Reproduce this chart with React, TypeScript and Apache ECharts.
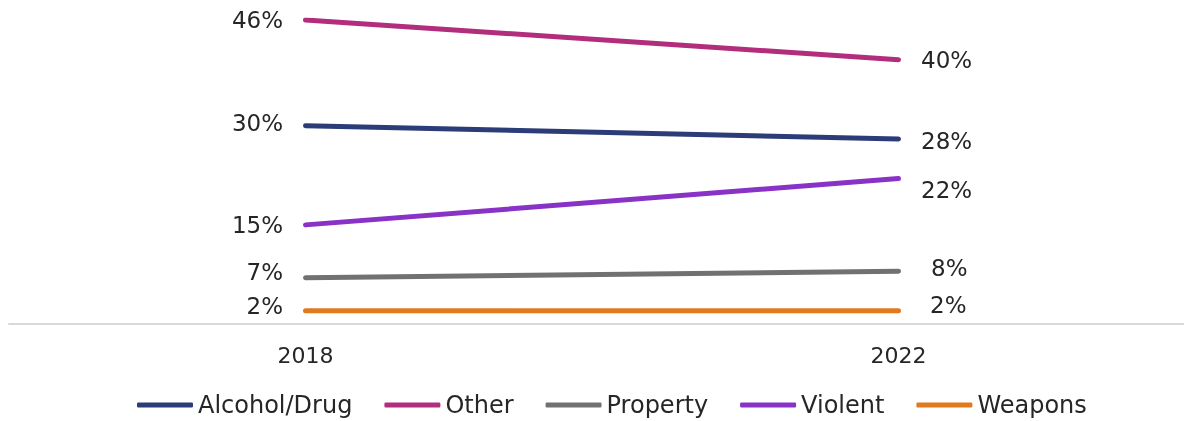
import React, { useEffect, useRef } from "react";
import * as echarts from "echarts";

const years = ["2018", "2022"];
const seriesNames = ["Alcohol/Drug", "Other", "Property", "Violent", "Weapons"];
const alcoholDrug = [30, 28];
const other = [46, 40];
const property = [7, 8];
const violent = [15, 22];
const weapons = [2, 2];
const colors = ["#2b3c78", "#b22e7c", "#717174", "#8932c6", "#e07a1f"];
// label nudges [left label, right label] as [dx, dy]
const labelNudges: number[][][] = [
  [[0, -3], [0, 2]],
  [[0, 0], [0, 0]],
  [[0, -6], [10, -3]],
  [[0, 0], [0, 11]],
  [[0, -5], [9, -6]],
];

const FONT = "'DejaVu Sans', 'Open Sans', sans-serif";

export default function App() {
  const ref = useRef<HTMLDivElement>(null);
  useEffect(() => {
    if (!ref.current) return;
    const chart = echarts.init(ref.current, undefined, { renderer: "svg" });
    const values = [alcoholDrug, other, property, violent, weapons];
    const series = seriesNames.map((name, si) => ({
      name,
      type: "line",
      symbol: "circle",
      symbolSize: 1,
      showSymbol: true,
      lineStyle: { width: 5, color: colors[si], cap: "round" },
      itemStyle: { color: colors[si] },
      labelLayout: (p: any) => ({
        dx: labelNudges[si][p.dataIndex][0],
        dy: labelNudges[si][p.dataIndex][1],
        hideOverlap: false,
      }),
      data: values[si].map((v, i) => ({
        value: v,
        label: {
          show: true,
          position: i === 0 ? "left" : "right",
          distance: 22,
          formatter: "{c}%",
          color: "#262626",
          fontSize: 23,
          fontFamily: FONT,
        },
      })),
    }));
    chart.setOption({
      animation: false,
      color: colors,
      grid: { left: 9, right: 5, top: 20, bottom: 97, containLabel: false },
      xAxis: {
        type: "category",
        data: years,
        boundaryGap: true,
        axisLine: { lineStyle: { color: "#d9d9d9", width: 2 } },
        axisTick: { show: false },
        axisLabel: { color: "#262626", fontSize: 22, fontFamily: FONT, margin: 20 },
      },
      yAxis: {
        type: "value",
        min: 0,
        max: 46,
        show: false,
        splitLine: { show: false },
      },
      legend: {
        data: seriesNames,
        left: 137,
        top: 393,
        padding: 0,
        itemWidth: 56,
        itemHeight: 5,
        itemGap: 32,
        icon: "roundRect",
        textStyle: { color: "#262626", fontSize: 24, fontFamily: FONT },
      },
      series,
    });
    return () => chart.dispose();
  }, []);
  return (
    <div
      ref={ref}
      style={{ position: "fixed", left: 0, top: 0, width: 1200, height: 421 }}
    />
  );
}
